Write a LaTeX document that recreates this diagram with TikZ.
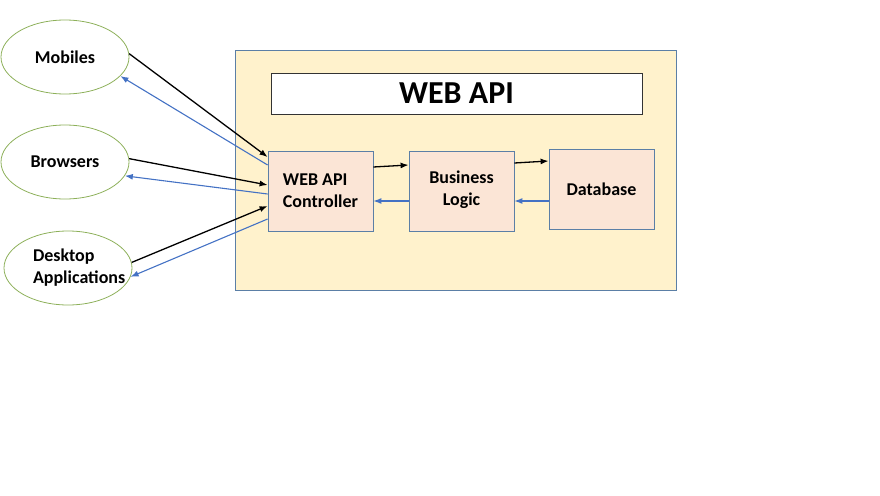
\documentclass[tikz,border=0pt]{standalone}
\usepackage{fontspec}
\setmainfont{Carlito}
\usetikzlibrary{shapes.geometric,arrows.meta,positioning}
\definecolor{panelfill}{HTML}{FFF2CC}
\definecolor{boxfill}{HTML}{FBE5D6}
\definecolor{boxedge}{HTML}{5B7FA6}
\definecolor{clientedge}{HTML}{8DB05A}
\definecolor{backblue}{HTML}{4472C4}

\tikzstyle{client} = [ellipse,draw=clientedge,line width=0.8pt,minimum width=128pt,minimum height=74pt,inner sep=0pt,font=\fontsize{18}{22}\selectfont\bfseries]
\tikzstyle{layer} = [rectangle,draw=boxedge,fill=boxfill,line width=0.8pt,minimum width=105pt,minimum height=80pt,inner sep=0pt,font=\fontsize{18}{22}\selectfont\bfseries]
\tikzstyle{request} = [->,black,line width=1.3pt]
\tikzstyle{reply} = [->,backblue,line width=1.1pt]

\begin{document}
\begin{tikzpicture}[node distance=141pt,>={Latex[length=8pt,width=6pt]}]
	\useasboundingbox (0pt,0pt) rectangle (880pt,-495pt);
	\node (panel) [rectangle,draw=boxedge,fill=panelfill,line width=0.8pt,minimum width=441pt,minimum height=240pt] at (455.5pt,-170pt) {};
	\node (title) [rectangle,draw=black!80,fill=white,line width=0.8pt,minimum width=371pt,minimum height=41pt,inner sep=0pt,font=\fontsize{32}{34}\selectfont\bfseries] at (456.5pt,-93.5pt) {WEB API};
	\node (controller) [layer,align=left] at (320.5pt,-191pt) {WEB API\\Controller};
	\node (business) [layer,right of=controller,align=center,text depth=6pt] {Business\\Logic};
	\node (database) [layer,right of=business,node distance=140pt,yshift=2pt] {Database};
	\node (mobiles) [client] at (65pt,-57pt) {Mobiles};
	\node (browsers) [client,below of=mobiles,node distance=105pt] {Browsers};
	\node (desktop) [client,below of=browsers,node distance=106pt,xshift=3pt,text width=70pt,align=left] {Desktop\\\mbox{Applications}};
	\draw [request] (mobiles.3) -- ([yshift=34pt]controller.west);
	\draw [reply] ([yshift=26pt]controller.west) -- (mobiles.-19);
	\draw [request] (browsers.3) -- ([yshift=6pt]controller.west);
	\draw [reply] ([yshift=-3pt]controller.west) -- (browsers.-13);
	\draw [request] (desktop.5) -- ([yshift=-15pt]controller.west);
	\draw [reply] ([yshift=-28pt]controller.west) -- (desktop.-8);
	\draw [request] ([yshift=24pt]controller.east) -- ([yshift=26pt]business.west);
	\draw [reply] ([yshift=-10pt]business.west) -- ([yshift=-10pt]controller.east);
	\draw [request] ([yshift=28pt]business.east) -- ([yshift=28pt]database.west);
	\draw [reply] ([yshift=-12pt]database.west) -- ([yshift=-10pt]business.east);
\end{tikzpicture}
\end{document}
